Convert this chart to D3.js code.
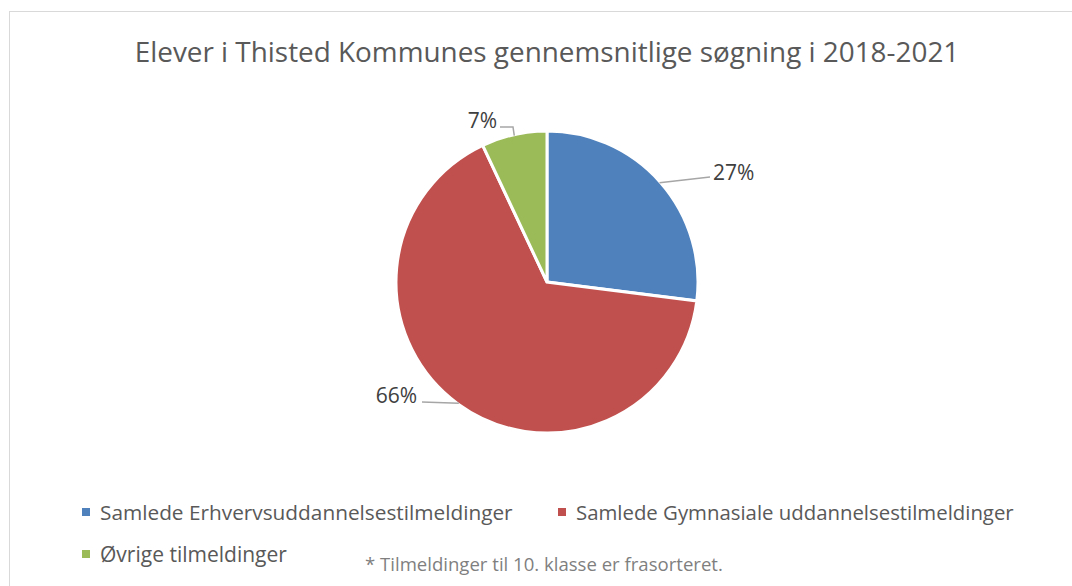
<!DOCTYPE html>
<html>
<head>
<meta charset="utf-8">
<script src="https://cdn.jsdelivr.net/npm/d3@7"></script>
<style>
  body { margin: 0; background: #fff; }
  text { font-family: "Open Sans", "Noto Sans", sans-serif; }
</style>
</head>
<body>
<div id="chart"></div>
<script>
const categories = [
  "Samlede Erhvervsuddannelsestilmeldinger",
  "Samlede Gymnasiale uddannelsestilmeldinger",
  "Øvrige tilmeldinger"
];
const values = [27, 66, 7];
const colors = ["#4F81BD", "#C0504D", "#9BBB59"];
const title = "Elever i Thisted Kommunes gennemsnitlige søgning i 2018-2021";
const footnote = "* Tilmeldinger til 10. klasse er frasorteret.";

const width = 1072, height = 586;
const cx = 547, cy = 282, radius = 151;

const svg = d3.select("#chart").append("svg")
  .attr("width", width)
  .attr("height", height);

// chart frame
svg.append("rect")
  .attr("x", 9.5).attr("y", 11.5)
  .attr("width", width + 10).attr("height", height + 10)
  .attr("fill", "none")
  .attr("stroke", "#d9d9d9")
  .attr("stroke-width", 1);

// shrink/grow font size so the text spans the wanted width
function fit(sel, w) {
  const size = parseFloat(sel.attr("font-size"));
  const len = sel.node().getComputedTextLength();
  sel.attr("font-size", size * w / len);
  return sel;
}

svg.append("text")
  .attr("x", cx).attr("y", 62)
  .attr("text-anchor", "middle")
  .attr("font-size", 24)
  .attr("fill", "#595959")
  .text(title)
  .call(fit, 825);

const pie = d3.pie().sort(null).value(d => d)(values);
const arc = d3.arc().innerRadius(0).outerRadius(radius);

const g = svg.append("g").attr("transform", `translate(${cx},${cy})`);

g.selectAll("path.slice")
  .data(pie)
  .join("path")
  .attr("class", "slice")
  .attr("d", arc)
  .attr("fill", (d, i) => colors[i])
  .attr("stroke", "#fff")
  .attr("stroke-width", 3)
  .attr("stroke-linejoin", "miter");

// leader lines + labels (elbow/end offsets relative to the pie centre)
const labelLayout = [
  {pts: [[163, -105]], tx: 166, ty: -110, anchor: "start"},
  {pts: [[-125, 120]], tx: -130, ty: 113, anchor: "end"},
  {pts: [[-34, -155], [-47, -155]], tx: -50, ty: -162, anchor: "end"}
];

const line = d3.line();
pie.forEach((d, i) => {
  const a = (d.startAngle + d.endAngle) / 2;
  const start = [Math.sin(a) * (radius - 1), -Math.cos(a) * (radius - 1)];
  const L = labelLayout[i];
  g.append("path")
    .attr("d", line([start, ...L.pts]))
    .attr("fill", "none")
    .attr("stroke", "#a6a6a6")
    .attr("stroke-width", 1.5);
  g.append("text")
    .attr("x", L.tx).attr("y", L.ty)
    .attr("text-anchor", L.anchor)
    .attr("dominant-baseline", "central")
    .attr("font-size", 21)
    .attr("fill", "#404040")
    .text(Math.round(d.data) + "%");
});

// legend
const legendItems = [
  {x: 82, y: 512, w: 413},
  {x: 558, y: 512, w: 438},
  {x: 82, y: 554, w: 187}
];
legendItems.forEach((p, i) => {
  svg.append("rect")
    .attr("x", p.x).attr("y", p.y - 4)
    .attr("width", 8).attr("height", 8)
    .attr("fill", colors[i]);
  svg.append("text")
    .attr("x", p.x + 18).attr("y", p.y)
    .attr("dominant-baseline", "central")
    .attr("font-size", 18)
    .attr("fill", "#595959")
    .text(categories[i])
    .call(fit, p.w);
});

svg.append("text")
  .attr("x", 365).attr("y", 563)
  .attr("dominant-baseline", "central")
  .attr("font-size", 16)
  .attr("fill", "#7f7f7f")
  .text(footnote)
  .call(fit, 358);
</script>
</body>
</html>
